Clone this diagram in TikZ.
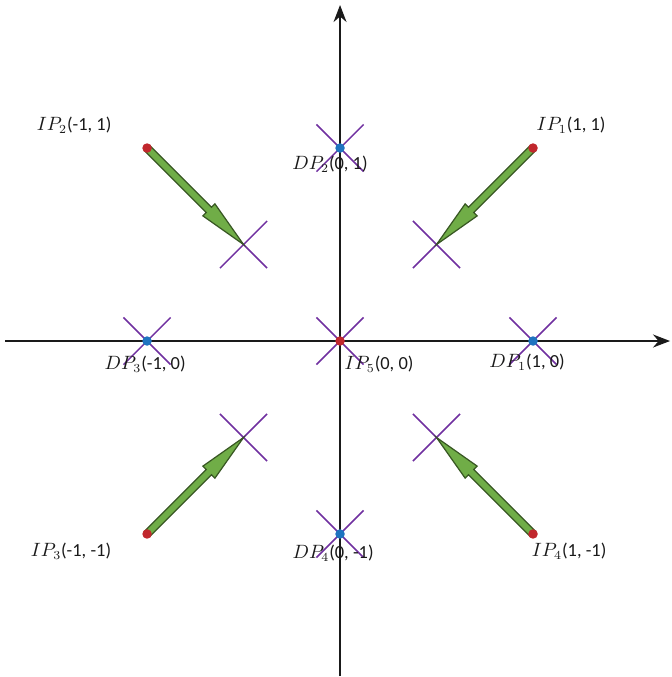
\documentclass[tikz,border=0pt]{standalone}
\usepackage{fontspec}
\setmainfont{Carlito}
\usepackage{xcolor}
\usepackage{tikz}
\usetikzlibrary{arrows.meta,positioning,calc}
\definecolor{cAxis}{HTML}{1A1A1A}
\definecolor{cCross}{HTML}{7030A0}
\definecolor{cIP}{HTML}{C1272D}
\definecolor{cDP}{HTML}{1F74C0}
\definecolor{cFill}{HTML}{70AD47}
\definecolor{cEdge}{HTML}{385723}
\tikzset{
  axis/.style={-{Stealth[length=3.4mm,width=2.6mm]}, line width=1.1pt, draw=cAxis},
  xmark/.style={draw=cCross, line width=0.85pt},
  ipdot/.style={circle, fill=cIP, inner sep=0pt, minimum size=1.9mm},
  dpdot/.style={circle, fill=cDP, inner sep=0pt, minimum size=1.9mm},
  garrow/.style={draw=cEdge, fill=cFill, line width=0.7pt, line join=miter},
  lbl/.style={font=\fontsize{10.5}{12}\selectfont, text=cAxis, inner sep=1pt},
}

\begin{document}
\begin{tikzpicture}[x=3.86cm, y=3.86cm]
  \useasboundingbox (-1.762,-1.741) rectangle (1.720,1.767);
  % points
  \coordinate (ip1) at (1,1);   \coordinate (ip2) at (-1,1);
  \coordinate (ip3) at (-1,-1); \coordinate (ip4) at (1,-1);
  \coordinate (ip5) at (0,0);
  \coordinate (dp1) at (1,0);   \coordinate (dp2) at (0,1);
  \coordinate (dp3) at (-1,0);  \coordinate (dp4) at (0,-1);
  \coordinate (t1) at (0.5,0.5);   \coordinate (t2) at (-0.5,0.5);
  \coordinate (t3) at (-0.5,-0.5); \coordinate (t4) at (0.5,-0.5);
  % axes
  \coordinate (xl) at (-1.736,0); \coordinate (xr) at (1.710,0);
  \coordinate (yb) at (0,-1.736); \coordinate (yt) at (0,1.741);
  \draw[axis] (xl) -- (xr);
  \draw[axis] (yb) -- (yt);
  % crosses
  \foreach \n in {dp1,dp2,dp3,dp4,ip5,t1,t2,t3,t4}
    \draw[xmark] ([shift={(-0.122,-0.122)}]\n) -- ([shift={(0.122,0.122)}]\n)
                 ([shift={(-0.122,0.122)}]\n) -- ([shift={(0.122,-0.122)}]\n);
  % fat arrows IP -> cross
  \foreach \s/\t in {ip1/t1,ip2/t2,ip3/t3,ip4/t4}{
    \coordinate (hb) at ($(\t)!0.98cm!(\s)$);
    \draw[garrow] ($(\s)!0.075cm!90:(\t)$) -- ($(hb)!0.075cm!90:(\t)$) -- ($(hb)!0.17cm!90:(\t)$)
      -- (\t) -- ($(hb)!0.17cm!-90:(\t)$) -- ($(hb)!0.075cm!-90:(\t)$) -- ($(\s)!0.075cm!-90:(\t)$) -- cycle;
  }
  % dots
  \foreach \n in {ip1,ip2,ip3,ip4,ip5} \node[ipdot] (d\n) at (\n) {};
  \foreach \n in {dp1,dp2,dp3,dp4} \node[dpdot] (d\n) at (\n) {};
  % labels
  \node[lbl] (lip1) at (1.197,1.119) {$IP_1$(1, 1)};
  \node[lbl] (lip2) at (-1.378,1.119) {$IP_2$(-1, 1)};
  \node[lbl] (lip3) at (-1.394,-1.088) {$IP_3$(-1, -1)};
  \node[lbl] (lip4) at (1.187,-1.088) {$IP_4$(1, -1)};
  \node[lbl] (lip5) at (0.202,-0.119) {$IP_5$(0, 0)};
  \node[lbl] (ldp1) at (0.969,-0.109) {$DP_1$(1, 0)};
  \node[lbl] (ldp2) at (-0.052,0.917) {$DP_2$(0, 1)};
  \node[lbl] (ldp3) at (-1.010,-0.119) {$DP_3$(-1, 0)};
  \node[lbl] (ldp4) at (-0.036,-1.098) {$DP_4$(0, -1)};
\end{tikzpicture}
\end{document}
